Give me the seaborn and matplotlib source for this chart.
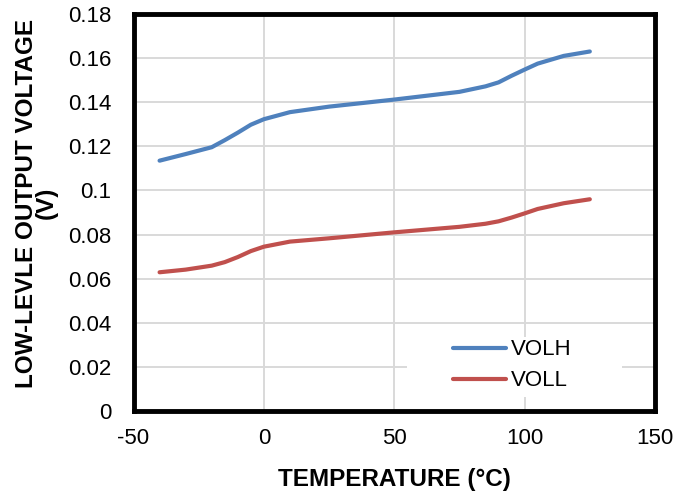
import matplotlib
matplotlib.use("Agg")
import matplotlib.pyplot as plt
import seaborn as sns
import pandas as pd
from matplotlib.patches import Rectangle

temps = [-40, -30, -20, -15, -10, -5, 0, 10, 25, 50, 75, 85, 90, 95, 100, 105, 115, 125]
volh = [0.1135, 0.1165, 0.1196, 0.1228, 0.1262, 0.1298, 0.1323, 0.1355, 0.1380, 0.1412,
        0.1447, 0.1472, 0.1490, 0.1520, 0.1548, 0.1575, 0.1610, 0.1630]
voll = [0.0629, 0.0641, 0.0659, 0.0675, 0.0698, 0.0725, 0.0745, 0.0768, 0.0783, 0.0810,
        0.0835, 0.0849, 0.0860, 0.0877, 0.0896, 0.0916, 0.0942, 0.0960]
series_names = ["VOLH", "VOLL"]
series_colors = ["#4F81BD", "#C0504D"]
x_ticks = [-50, 0, 50, 100, 150]
y_ticks = [0, 0.02, 0.04, 0.06, 0.08, 0.1, 0.12, 0.14, 0.16, 0.18]
y_tick_labels = ["0", "0.02", "0.04", "0.06", "0.08", "0.1", "0.12", "0.14", "0.16", "0.18"]
x_label = "TEMPERATURE (°C)"
y_label = "LOW-LEVLE OUTPUT VOLTAGE\n(V)"

df = pd.concat([
    pd.DataFrame({"Temperature": temps, "Voltage": volh, "Series": series_names[0]}),
    pd.DataFrame({"Temperature": temps, "Voltage": voll, "Series": series_names[1]}),
], ignore_index=True)

sns.set_theme(style="white")
plt.rcParams["font.family"] = ["Liberation Sans", "DejaVu Sans"]

fig = plt.figure(figsize=(6.89, 4.98), dpi=100)
ax = fig.add_axes([133.5 / 689, 1 - 411 / 498, (655 - 133.5) / 689, (411 - 14) / 498])

sns.lineplot(data=df, x="Temperature", y="Voltage", hue="Series",
             palette=dict(zip(series_names, series_colors)), linewidth=3,
             ax=ax, sort=False, legend=False, solid_capstyle="round", solid_joinstyle="round")

ax.set_xlim(-50, 150)
ax.set_ylim(0, 0.18)
ax.set_xticks(x_ticks)
ax.set_xticklabels([str(t) for t in x_ticks])
ax.set_yticks(y_ticks)
ax.set_yticklabels(y_tick_labels)
ax.tick_params(axis="both", length=0, labelsize=16, colors="black")
ax.tick_params(axis="x", pad=12)
ax.tick_params(axis="y", pad=16)

ax.set_axisbelow(True)
ax.grid(True, color="#D9D9D9", linewidth=1.4)
for sp in ax.spines.values():
    sp.set_visible(True)
    sp.set_color("black")
    sp.set_linewidth(3.5)

ax.set_xlabel(x_label, fontsize=17.5, fontweight="bold", labelpad=14, color="black")
ax.set_ylabel(y_label, fontsize=17.5, fontweight="bold", color="black", linespacing=0.78)
ax.yaxis.set_label_coords(-0.146, 0.524)

# white legend background
ax.add_patch(Rectangle((0.524, 0.035), 0.413, 0.151, transform=ax.transAxes,
                       facecolor="white", edgecolor="none", zorder=1))

handles = [plt.Line2D([], [], color=c, linewidth=3) for c in series_colors]
leg = ax.legend(handles, series_names, loc="center", bbox_to_anchor=(0.726, 0.115),
                frameon=False, fontsize=16, handlelength=2.4, handletextpad=0.2,
                labelspacing=0.45)
for t in leg.get_texts():
    t.set_color("black")

fig.savefig("out.png", dpi=100)
